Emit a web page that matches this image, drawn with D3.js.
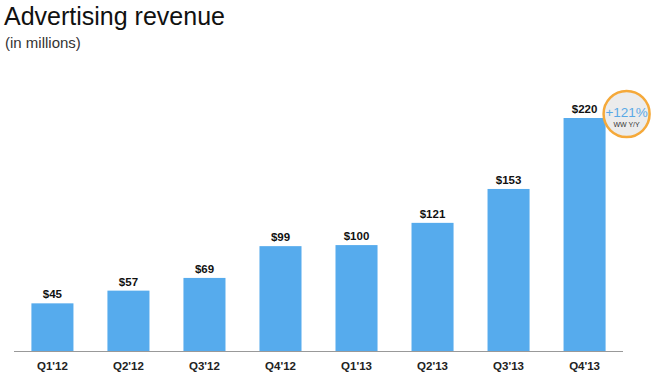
<html>
<head>
  <meta charset="utf8">
  <title>Advertising revenue</title>
  <style>
    * { margin: 0; padding: 0; }
    body { background: #fff; }
  </style>
</head>
<body>
  <script src="https://cdn.jsdelivr.net/npm/d3@7"></script>
  <script>
    var w = 655
    var h = 375

    var quarters = ["Q1'12", "Q2'12", "Q3'12", "Q4'12", "Q1'13", "Q2'13", "Q3'13", "Q4'13"]
    var revenue = [45, 57, 69, 99, 100, 121, 153, 220]
    var growthText = '+121%'
    var growthSub = 'WW Y/Y'

    var font = '"Liberation Sans", Arial, sans-serif'

    var svg = d3.select('body').append('svg').attr('width', w).attr('height', h)

    var xScale = d3.scaleBand().domain(quarters).range([14, 623]).paddingInner(0.447).paddingOuter(0.229)
    var yScale = d3.scaleLinear().domain([0, 220]).range([351, 118])

    // title
    svg.append('text')
      .attr('x', 4).attr('y', 25)
      .attr('font-family', font).attr('font-size', '25px')
      .attr('fill', '#111')
      .text('Advertising revenue')

    svg.append('text')
      .attr('x', 5).attr('y', 48)
      .attr('font-family', font).attr('font-size', '15px')
      .attr('fill', '#333')
      .text('(in millions)')

    // bars
    svg.selectAll('rect.bar')
      .data(revenue)
      .enter()
      .append('rect')
      .attr('class', 'bar')
      .attr('x', (d, i) => xScale(quarters[i]))
      .attr('y', d => yScale(d))
      .attr('width', xScale.bandwidth())
      .attr('height', d => yScale(0) - yScale(d))
      .attr('fill', '#56abed')

    // value labels
    svg.selectAll('text.val')
      .data(revenue)
      .enter()
      .append('text')
      .attr('class', 'val')
      .attr('text-anchor', 'middle')
      .attr('x', (d, i) => xScale(quarters[i]) + xScale.bandwidth() / 2)
      .attr('y', d => yScale(d) - 5)
      .attr('font-family', font).attr('font-size', '11.5px').attr('font-weight', 'bold')
      .attr('fill', '#111')
      .text(d => '$' + d)

    // baseline
    svg.append('line')
      .attr('x1', 14).attr('x2', 623)
      .attr('y1', yScale(0) + 0.5).attr('y2', yScale(0) + 0.5)
      .attr('stroke', '#999').attr('stroke-width', 1)

    // category labels
    var xAxis = svg.append('g')
      .attr('transform', 'translate(0,' + yScale(0) + ')')
      .call(d3.axisBottom(xScale).tickSize(0).tickPadding(11))
    xAxis.select('.domain').remove()
    xAxis.selectAll('text')
      .attr('font-family', font).attr('font-size', '11.5px').attr('font-weight', 'bold')
      .attr('fill', '#222')

    // growth badge
    var last = quarters[quarters.length - 1]
    var cx = xScale(last) + xScale.bandwidth() + 21
    var cy = yScale(revenue[revenue.length - 1]) - 4
    var badge = svg.append('g')
    badge.append('circle')
      .attr('cx', cx).attr('cy', cy).attr('r', 23)
      .attr('fill', '#ececec')
      .attr('stroke', '#f5a93a').attr('stroke-width', 2.5)
    badge.append('text')
      .attr('x', cx).attr('y', cy + 3)
      .attr('text-anchor', 'middle')
      .attr('font-family', font).attr('font-size', '13.5px')
      .attr('fill', '#5aa9e6')
      .text(growthText)
    badge.append('text')
      .attr('x', cx).attr('y', cy + 13)
      .attr('text-anchor', 'middle')
      .attr('font-family', font).attr('font-size', '7px')
      .attr('fill', '#333')
      .text(growthSub)
  </script>
</body>
</html>
